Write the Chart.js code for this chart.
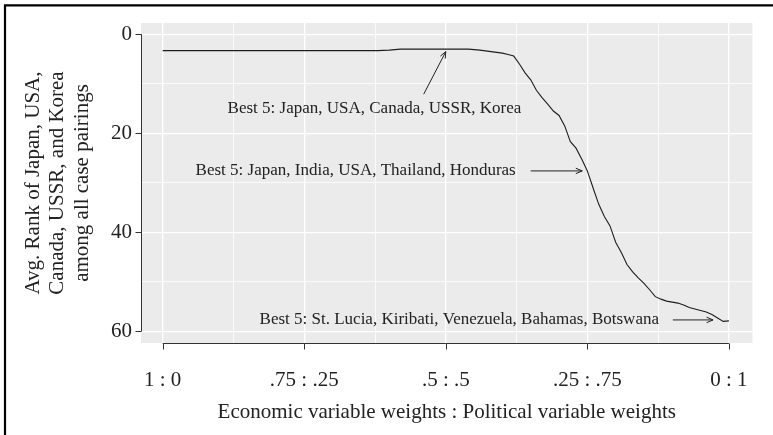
<!DOCTYPE html>
<html>
<head>
<meta charset="utf-8">
<title>Average rank by weighting</title>
<script src="https://cdn.jsdelivr.net/npm/chart.js@4.4.1/dist/chart.umd.min.js"></script>
<style>
  html, body { margin: 0; padding: 0; background: #fff; }
  #wrap { position: relative; width: 773px; height: 435px; }
</style>
</head>
<body>
<div id="wrap"><canvas id="rankChart"></canvas></div>
<script>
'use strict';

// share given to the political variables (economic share is 1 - weight)
const weights = [
  0, 0.02, 0.04, 0.06, 0.08, 0.10, 0.12, 0.14, 0.16, 0.18,
  0.20, 0.22, 0.24, 0.26, 0.28, 0.30, 0.32, 0.34, 0.36, 0.38,
  0.40, 0.42, 0.44, 0.46, 0.48, 0.50, 0.52, 0.54, 0.56, 0.58,
  0.60, 0.61, 0.62, 0.63, 0.64, 0.65, 0.66, 0.67, 0.68, 0.69,
  0.70, 0.71, 0.72, 0.73, 0.74, 0.75, 0.76, 0.77, 0.78, 0.79,
  0.80, 0.81, 0.82, 0.83, 0.84, 0.85, 0.86, 0.87, 0.88, 0.89,
  0.90, 0.91, 0.92, 0.93, 0.94, 0.95, 0.96, 0.97, 0.98, 0.99, 1.00
];

// average rank of Japan, USA, Canada, USSR and Korea
const avgRank = [
  3.3, 3.3, 3.3, 3.3, 3.3, 3.3, 3.3, 3.3, 3.3, 3.3,
  3.3, 3.3, 3.3, 3.3, 3.3, 3.3, 3.3, 3.3, 3.3, 3.3,
  3.2, 3.0, 3.0, 3.0, 3.0, 3.0, 3.0, 3.0, 3.2, 3.5,
  3.8, 4.1, 4.4, 6.0, 7.8, 9.2, 11.3, 12.8, 14.1, 15.5,
  16.4, 18.5, 21.7, 23.0, 25.2, 27.6, 31.0, 34.3, 36.8, 38.7,
  42.0, 44.1, 46.5, 48.0, 49.2, 50.3, 51.6, 53.0, 53.5, 53.9,
  54.1, 54.3, 54.7, 55.2, 55.5, 55.8, 56.1, 56.6, 57.3, 58.0, 57.9
];

const xTicks = [0, 0.25, 0.5, 0.75, 1];
const xTickLabels = ['1 : 0', '.75 : .25', '.5 : .5', '.25 : .75', '0 : 1'];
const yTicks = [0, 20, 40, 60];
const yTickLabels = ['0', '20', '40', '60'];

const noteTexts = [
  'Best 5: Japan, USA, Canada, USSR, Korea',
  'Best 5: Japan, India, USA, Thailand, Honduras',
  'Best 5: St. Lucia, Kiribati, Venezuela, Bahamas, Botswana'
];

// where each note sits, in data units, and where its arrow runs
const notePlacement = [
  { x: 0.374, y: 14.9, align: 'center', from: [0.461, 12.1], to: [0.5, 3.5] },
  { x: 0.6235, y: 27.6, align: 'right', from: [0.65, 27.6], to: [0.741, 27.6] },
  { x: 0.8765, y: 57.7, align: 'right', from: [0.901, 57.7], to: [0.972, 57.7] }
];

const serif = '"Liberation Serif", "Times New Roman", serif';
const panelColor = '#ebebeb';
const inkColor = '#333333';

function isMultiple(v, step) {
  return Math.abs(v / step - Math.round(v / step)) < 1e-6;
}

function drawArrow(c, x1, y1, x2, y2) {
  const ang = Math.atan2(y2 - y1, x2 - x1);
  const len = 7;
  c.beginPath();
  c.moveTo(x1, y1);
  c.lineTo(x2, y2);
  c.moveTo(x2 - len * Math.cos(ang - 0.4), y2 - len * Math.sin(ang - 0.4));
  c.lineTo(x2, y2);
  c.lineTo(x2 - len * Math.cos(ang + 0.4), y2 - len * Math.sin(ang + 0.4));
  c.stroke();
}

// gray panel underneath, then capped axes, notes and the outer frame on top
const decorPlugin = {
  id: 'decor',
  beforeDraw(chart) {
    const c = chart.ctx;
    const a = chart.chartArea;
    c.save();
    c.fillStyle = '#ffffff';
    c.fillRect(0, 0, chart.width, chart.height);
    c.fillStyle = panelColor;
    c.fillRect(a.left, a.top, a.right - a.left, a.bottom - a.top);
    c.restore();
  },
  afterDraw(chart) {
    const c = chart.ctx;
    const a = chart.chartArea;
    const xs = chart.scales.x;
    const ys = chart.scales.y;
    c.save();
    c.strokeStyle = inkColor;
    c.lineWidth = 1;

    // y axis line between the first and last tick
    const yx = Math.round(a.left) + 0.5;
    c.beginPath();
    c.moveTo(yx, ys.getPixelForValue(yTicks[0]));
    c.lineTo(yx, ys.getPixelForValue(yTicks[yTicks.length - 1]));
    yTicks.forEach(v => {
      const py = Math.round(ys.getPixelForValue(v)) + 0.5;
      c.moveTo(yx - 6, py);
      c.lineTo(yx, py);
    });
    c.stroke();

    // x axis line along the panel bottom
    const xy = Math.round(a.bottom) + 0.5;
    c.beginPath();
    c.moveTo(xs.getPixelForValue(xTicks[0]), xy);
    c.lineTo(xs.getPixelForValue(xTicks[xTicks.length - 1]), xy);
    xTicks.forEach(v => {
      const px = Math.round(xs.getPixelForValue(v)) + 0.5;
      c.moveTo(px, xy);
      c.lineTo(px, xy + 6);
    });
    c.stroke();

    // notes with arrows
    c.font = '17px ' + serif;
    c.fillStyle = '#222222';
    c.strokeStyle = '#222222';
    c.textBaseline = 'middle';
    noteTexts.forEach((t, i) => {
      const p = notePlacement[i];
      c.textAlign = p.align;
      c.fillText(t, xs.getPixelForValue(p.x), ys.getPixelForValue(p.y));
      drawArrow(c,
        xs.getPixelForValue(p.from[0]), ys.getPixelForValue(p.from[1]),
        xs.getPixelForValue(p.to[0]), ys.getPixelForValue(p.to[1]));
    });

    // frame around the figure
    c.strokeStyle = '#000000';
    c.lineWidth = 2.2;
    c.beginPath();
    c.moveTo(5, chart.height);
    c.lineTo(5, 5.3);
    c.lineTo(chart.width, 5.3);
    c.stroke();
    c.restore();
  }
};

const ctx = document.getElementById('rankChart').getContext('2d');

const rankChart = new Chart(ctx, {
  type: 'line',
  data: {
    datasets: [{
      data: weights.map((w, i) => ({ x: w, y: avgRank[i] })),
      borderColor: '#1e1e1e',
      borderWidth: 1.1,
      pointRadius: 0,
      tension: 0,
      fill: false
    }]
  },
  options: {
    responsive: true,
    maintainAspectRatio: false,
    animation: false,
    devicePixelRatio: 1,
    layout: { padding: { left: 0, top: 23, right: 11, bottom: 0 } },
    plugins: {
      legend: { display: false },
      tooltip: { enabled: false }
    },
    scales: {
      x: {
        type: 'linear',
        min: -0.0383,
        max: 1.0417,
        afterBuildTicks(axis) {
          const t = [];
          for (let k = 0; k <= 8; k++) t.push({ value: k * 0.125 });
          axis.ticks = t;
        },
        afterFit(axis) { axis.height = 92; },
        grid: {
          color: '#ffffff',
          lineWidth: c => (isMultiple(c.tick.value, 0.25) ? 1.3 : 0.8),
          drawTicks: false
        },
        border: { display: false },
        ticks: {
          autoSkip: false,
          maxRotation: 0,
          padding: 25,
          color: '#222222',
          font: { family: serif, size: 21, lineHeight: 1.2 },
          callback: v => {
            const i = xTicks.findIndex(t => Math.abs(t - v) < 1e-6);
            return i < 0 ? '' : xTickLabels[i];
          }
        },
        title: {
          display: true,
          text: 'Economic variable weights : Political variable weights',
          color: '#222222',
          font: { family: serif, size: 21, lineHeight: 1.17 },
          padding: { top: 0, bottom: 10.7 }
        }
      },
      y: {
        type: 'linear',
        reverse: true,
        min: -2.28,
        max: 62.36,
        afterBuildTicks(axis) {
          const t = [];
          for (let v = 0; v <= 60; v += 10) t.push({ value: v });
          axis.ticks = t;
        },
        afterFit(axis) { axis.width = 141; },
        grid: {
          color: '#ffffff',
          lineWidth: c => (isMultiple(c.tick.value, 20) ? 1.3 : 0.8),
          drawTicks: false
        },
        border: { display: false },
        ticks: {
          autoSkip: false,
          padding: 9,
          color: '#222222',
          font: { family: serif, size: 21, lineHeight: 1.2 },
          callback: v => {
            const i = yTicks.indexOf(v);
            return i < 0 ? '' : yTickLabels[i];
          }
        },
        title: {
          display: true,
          text: ['Avg. Rank of Japan, USA,', 'Canada, USSR, and Korea', 'among all case pairings'],
          color: '#222222',
          font: { family: serif, size: 21, lineHeight: 1.17 },
          padding: { top: 20.7, bottom: 0 }
        }
      }
    }
  },
  plugins: [decorPlugin]
});
</script>
</body>
</html>
